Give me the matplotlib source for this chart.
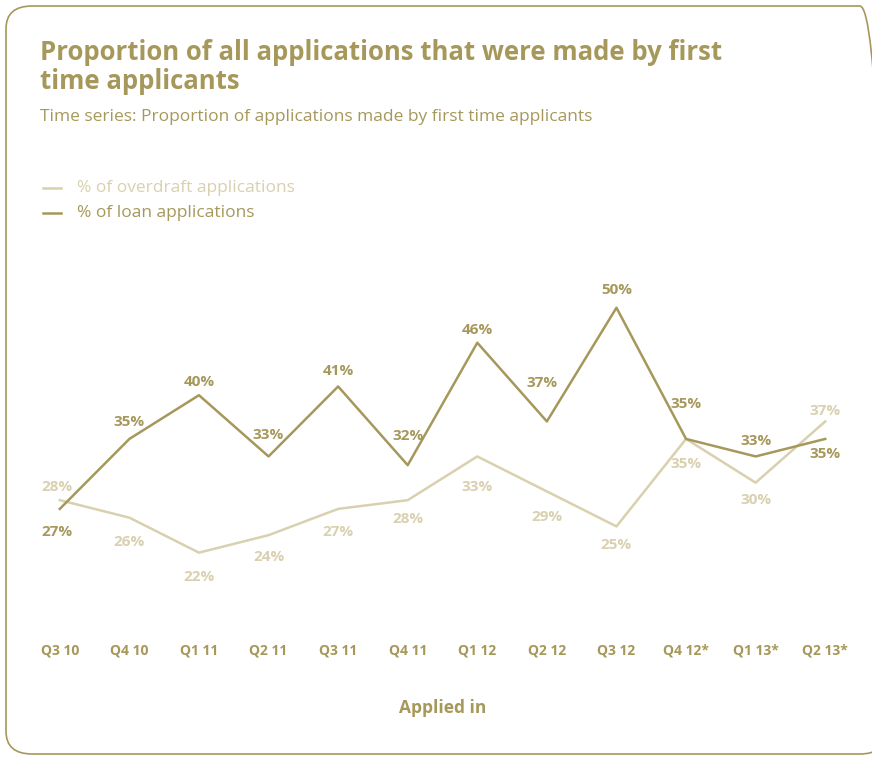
import matplotlib.pyplot as plt
from matplotlib.patches import FancyBboxPatch
from matplotlib.lines import Line2D

plt.rcParams['font.family'] = ['Open Sans', 'DejaVu Sans']

quarters = ['Q3 10', 'Q4 10', 'Q1 11', 'Q2 11', 'Q3 11', 'Q4 11',
            'Q1 12', 'Q2 12', 'Q3 12', 'Q4 12*', 'Q1 13*', 'Q2 13*']
overdraft = [28, 26, 22, 24, 27, 28, 33, 29, 25, 35, 30, 37]
loan = [27, 35, 40, 33, 41, 32, 46, 37, 50, 35, 33, 35]

# label offsets in pixels (dx, dy), positive dy = up
loan_off = [(-3, -23), (0, 17), (0, 13), (0, 21), (0, 15), (0, 29),
            (0, 13), (-5, 38), (0, 18), (0, 35), (0, 15), (0, -15)]
od_off = [(-3, 13), (0, -24), (0, -24), (0, -22), (0, -23), (0, -19),
          (0, -31), (0, -26), (0, -19), (0, -25), (0, -17), (0, 10)]

dark = '#A6985A'
light = '#D9D0AF'

fig = plt.figure(figsize=(8.72, 7.58), dpi=100)

# rounded frame round the whole chart
frame = FancyBboxPatch((6 / 872, 4 / 758), 880 / 872, 748 / 758,
                       boxstyle='round,pad=0,rounding_size=0.03',
                       transform=fig.transFigure, fill=False,
                       edgecolor=dark, linewidth=1.2, clip_on=False)
fig.patches.append(frame)

fig.text(40 / 872, 1 - 67 / 758,
         'Proportion of all applications that were made by first\ntime applicants',
         fontsize=18.5, fontweight='bold', color=dark, va='center', ha='left',
         linespacing=1.1)
fig.text(40 / 872, 1 - 117 / 758,
         'Time series: Proportion of applications made by first time applicants',
         fontsize=12.5, color=dark, va='center', ha='left')

# legend drawn by hand
for y, lab, col in [(188, '% of overdraft applications', light),
                    (213, '% of loan applications', dark)]:
    fig.lines.append(Line2D([43 / 872, 61 / 872], [1 - y / 758, 1 - y / 758],
                            transform=fig.transFigure, color=col, linewidth=1.8))
    fig.text(77 / 872, 1 - y / 758, lab, fontsize=12.5, color=col,
             va='center', ha='left')

ax = fig.add_axes([25 / 872, 1 - 620 / 758, 835 / 872, 370 / 758])
x = range(len(quarters))
ax.plot(x, overdraft, color=light, linewidth=1.8)
ax.plot(x, loan, color=dark, linewidth=1.8)
ax.set_xlim(-0.5, 11.5)
ax.set_ylim(14.3, 56.6)

for i in x:
    ax.annotate(f'{loan[i]}%', (i, loan[i]), xytext=loan_off[i],
                textcoords='offset pixels', ha='center', va='center',
                fontsize=11, fontweight='bold', color=dark)
    ax.annotate(f'{overdraft[i]}%', (i, overdraft[i]), xytext=od_off[i],
                textcoords='offset pixels', ha='center', va='center',
                fontsize=11, fontweight='bold', color=light)

for s in ax.spines.values():
    s.set_visible(False)
ax.set_yticks([])
ax.set_xticks(list(x))
ax.set_xticklabels(quarters, fontsize=10, fontweight='bold', color=dark)
ax.tick_params(axis='x', length=0, pad=17)
ax.set_xlabel('Applied in', fontsize=12.5, fontweight='bold', color=dark,
              labelpad=30)

fig.savefig('out.png', dpi=100)
